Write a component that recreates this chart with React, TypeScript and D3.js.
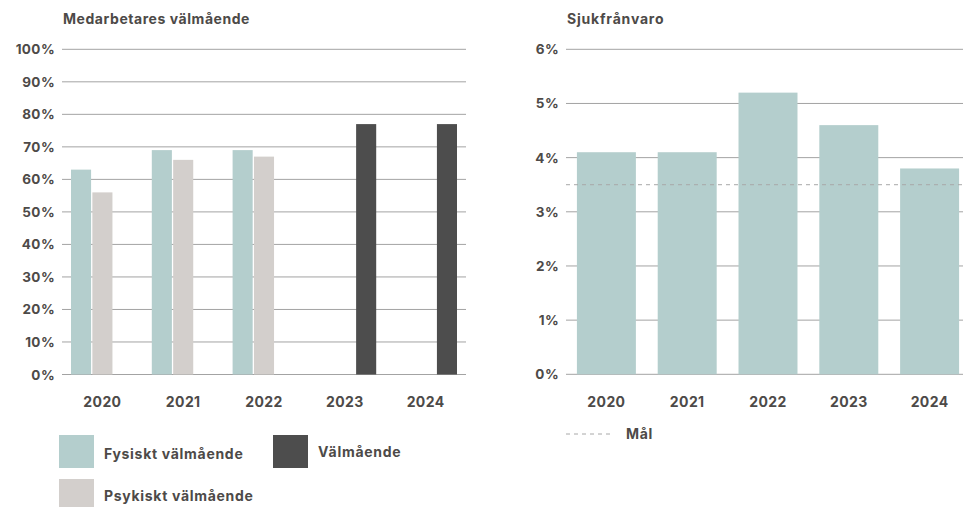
import React from "react";
import * as d3 from "d3";

const years = ["2020", "2021", "2022", "2023", "2024"];
const fysiskt: (number | null)[] = [63, 69, 69, null, null];
const psykiskt: (number | null)[] = [56, 66, 67, null, null];
const valmaende: (number | null)[] = [null, null, null, 77, 77];
const leftTicks = [0, 10, 20, 30, 40, 50, 60, 70, 80, 90, 100];

const sjuk = [4.1, 4.1, 5.2, 4.6, 3.8];
const mal = 3.5;
const rightTicks = [0, 1, 2, 3, 4, 5, 6];

const leftTitle = "Medarbetares välmående";
const rightTitle = "Sjukfrånvaro";
const seriesNames = ["Fysiskt välmående", "Psykiskt välmående", "Välmående"];
const malLabel = "Mål";

const C_TEAL = "#b4cecd";
const C_LIGHT = "#d3cfcc";
const C_DARK = "#4d4d4d";
const C_TEXT = "#4d4a48";
const C_GRID = "#a3a3a3";
const FONT = "Inter, 'Noto Sans', sans-serif";

export default function App() {
  const lx = d3.scaleBand<string>().domain(years).range([62, 466]);
  const ly = d3.scaleLinear().domain([0, 100]).range([374.5, 49.3]);
  const groupKeys = ["f", "p", "v"];
  const inner = d3.scaleBand<string>().domain(groupKeys).range([9, lx.bandwidth() - 9]).paddingInner(0.06);
  const leftSeries = [
    { key: "f", data: fysiskt, color: C_TEAL },
    { key: "p", data: psykiskt, color: C_LIGHT },
    { key: "v", data: valmaende, color: C_DARK },
  ];

  const rx = d3.scaleBand<string>().domain(years).range([566, 970]).paddingInner(0.27).paddingOuter(0.135);
  const ry = d3.scaleLinear().domain([0, 6]).range([374.3, 49.3]);

  const word = { fontSize: 14, fontWeight: 700, fill: C_TEXT, letterSpacing: 0.7 } as const;
  const num = { fontSize: 13.5, fontWeight: 700, fill: C_TEXT, letterSpacing: 0.4 } as const;

  return (
    <div style={{ position: "fixed", left: 0, top: 0 }}>
      <svg width={963} height={507} style={{ display: "block", fontFamily: FONT }}>
        <rect width={963} height={507} fill="#fff" />
        {/* Left chart */}
        <text x={63} y={24} {...word} letterSpacing={0.55}>{leftTitle}</text>
        {leftTicks.map((t) => (
          <g key={"lt" + t}>
            <line x1={62} x2={466} y1={ly(t)} y2={ly(t)} stroke={C_GRID} strokeWidth={1} />
            <text x={55} y={ly(t) + 5} textAnchor="end" {...num}>{t}%</text>
          </g>
        ))}
        {leftSeries.map((s) =>
          years.map((yr, i) => {
            const v = s.data[i];
            if (v == null) return null;
            return (
              <rect
                key={s.key + yr}
                x={(lx(yr) as number) + (inner(s.key) as number)}
                y={ly(v)}
                width={inner.bandwidth()}
                height={ly(0) - ly(v)}
                fill={s.color}
              />
            );
          })
        )}
        {years.map((yr) => (
          <text key={"lx" + yr} x={(lx(yr) as number) + lx.bandwidth() / 2} y={407} textAnchor="middle" {...num} fontSize={14}>{yr}</text>
        ))}
        {/* Left legend */}
        <rect x={59} y={435} width={35} height={33} fill={C_TEAL} />
        <text x={104} y={459} {...word}>{seriesNames[0]}</text>
        <rect x={273} y={435} width={35} height={33} fill={C_DARK} />
        <text x={318} y={457} {...word}>{seriesNames[2]}</text>
        <rect x={59} y={479} width={35} height={33} fill={C_LIGHT} />
        <text x={104} y={501} {...word}>{seriesNames[1]}</text>

        {/* Right chart */}
        <text x={567} y={24} {...word} letterSpacing={0.8}>{rightTitle}</text>
        {rightTicks.map((t) => (
          <g key={"rt" + t}>
            <line x1={566} x2={963} y1={ry(t)} y2={ry(t)} stroke={C_GRID} strokeWidth={1} />
            <text x={559} y={ry(t) + 5} textAnchor="end" {...num}>{t}%</text>
          </g>
        ))}
        {years.map((yr, i) => (
          <rect key={"rb" + yr} x={rx(yr)} y={ry(sjuk[i])} width={rx.bandwidth()} height={ry(0) - ry(sjuk[i])} fill={C_TEAL} />
        ))}
        <line x1={566} x2={963} y1={ry(mal)} y2={ry(mal)} stroke="#a8a8a8" strokeWidth={1} strokeDasharray="4,4" />
        {years.map((yr) => (
          <text key={"rx" + yr} x={(rx(yr) as number) + rx.bandwidth() / 2} y={407} textAnchor="middle" {...num} fontSize={14}>{yr}</text>
        ))}
        {/* Right legend */}
        <line x1={566} x2={612} y1={434} y2={434} stroke="#a8a8a8" strokeWidth={1} strokeDasharray="4,4" />
        <text x={626} y={439} {...word}>{malLabel}</text>
      </svg>
    </div>
  );
}
